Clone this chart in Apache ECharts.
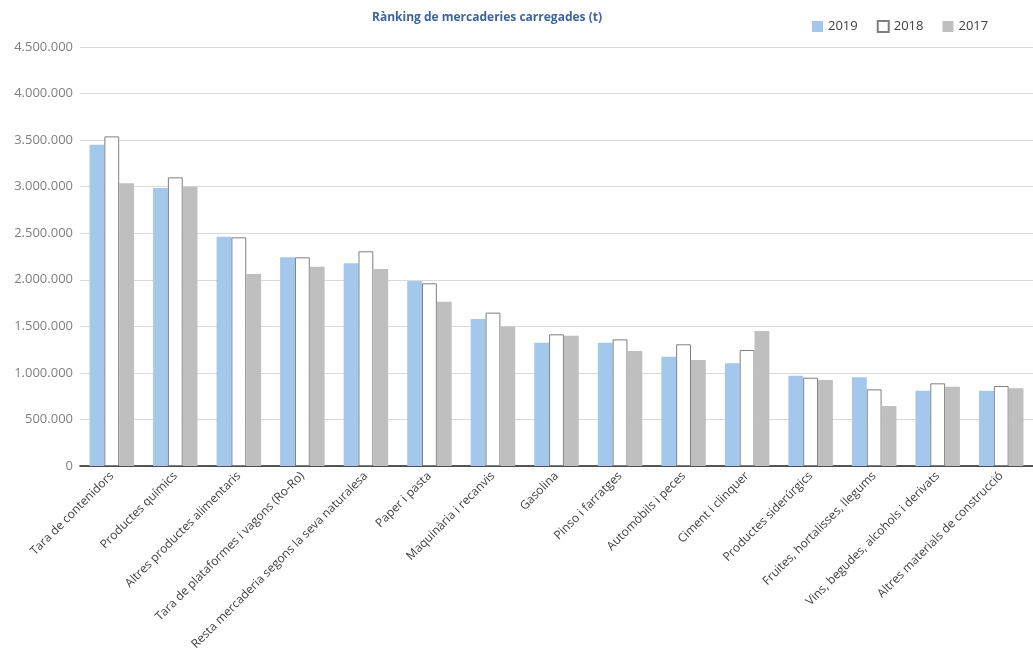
<!DOCTYPE html>
<html><head><meta charset="utf-8">
<script src="https://cdn.jsdelivr.net/npm/echarts@6/dist/echarts.min.js"></script>
<style>html,body{margin:0;padding:0;background:#fff}#c{width:1033px;height:655px}</style>
</head><body><div id="c"></div>
<script>
const categories = ["Tara de contenidors","Productes químics","Altres productes alimentaris","Tara de plataformes i vagons (Ro-Ro)","Resta mercaderia segons la seva naturalesa","Paper i pasta","Maquinària i recanvis","Gasolina","Pinso i farratges","Automòbils i peces","Ciment i clinquer","Productes siderúrgics","Fruites, hortalisses, llegums","Vins, begudes, alcohols i derivats","Altres materials de construcció"];
const v2019 = [3450000,2985000,2463000,2241000,2177000,1987000,1579000,1325000,1325000,1174000,1103000,970000,952000,809000,809000];
const v2018 = [3540000,3100000,2456000,2241000,2306000,1962000,1647000,1414000,1360000,1307000,1246000,948000,823000,888000,859000];
const v2017 = [3036000,3000000,2062000,2141000,2116000,1765000,1496000,1400000,1235000,1138000,1450000,924000,644000,852000,834000];
const seriesNames = ["2019","2018","2017"];
const title = "Rànking de mercaderies carregades (t)";

function fmt(v){return String(v).replace(/\B(?=(\d{3})+(?!\d))/g,'.');}
const chart = echarts.init(document.getElementById('c'));
chart.setOption({
  animation:false,
  title:{text:title,left:367,top:7,textStyle:{fontFamily:'Open Sans',fontSize:12,fontWeight:'bold',color:'#3b64a0'}},
  legend:{data:seriesNames,left:807,top:15,itemWidth:11,itemHeight:11,itemGap:19,icon:'rect',
    textStyle:{fontFamily:'Open Sans',fontSize:13,color:'#404040'}},
  grid:{left:80,top:47,width:963,height:419,containLabel:false},
  xAxis:{type:'category',data:categories,
    axisLine:{lineStyle:{color:'#222',width:1.5}},axisTick:{show:false},
    axisLabel:{rotate:45,interval:0,fontFamily:'Open Sans',fontSize:12,color:'#404040',margin:8}},
  yAxis:{type:'value',min:0,max:4500000,interval:500000,
    axisLine:{show:false},axisTick:{show:false},
    splitLine:{lineStyle:{color:'#d9d9d9',width:1}},
    axisLabel:{formatter:fmt,fontFamily:'Open Sans',fontSize:13,color:'#7f7f7f',margin:7}},
  series:[
    {name:seriesNames[0],type:'bar',data:v2019,barGap:'0%',barCategoryGap:'30%',itemStyle:{color:'#a4c8ec'}},
    {name:seriesNames[1],type:'bar',data:v2018,itemStyle:{color:'#ffffff',borderColor:'#7f7f7f',borderWidth:1}},
    {name:seriesNames[2],type:'bar',data:v2017,itemStyle:{color:'#bfbfbf'}}
  ]
});
</script></body></html>
